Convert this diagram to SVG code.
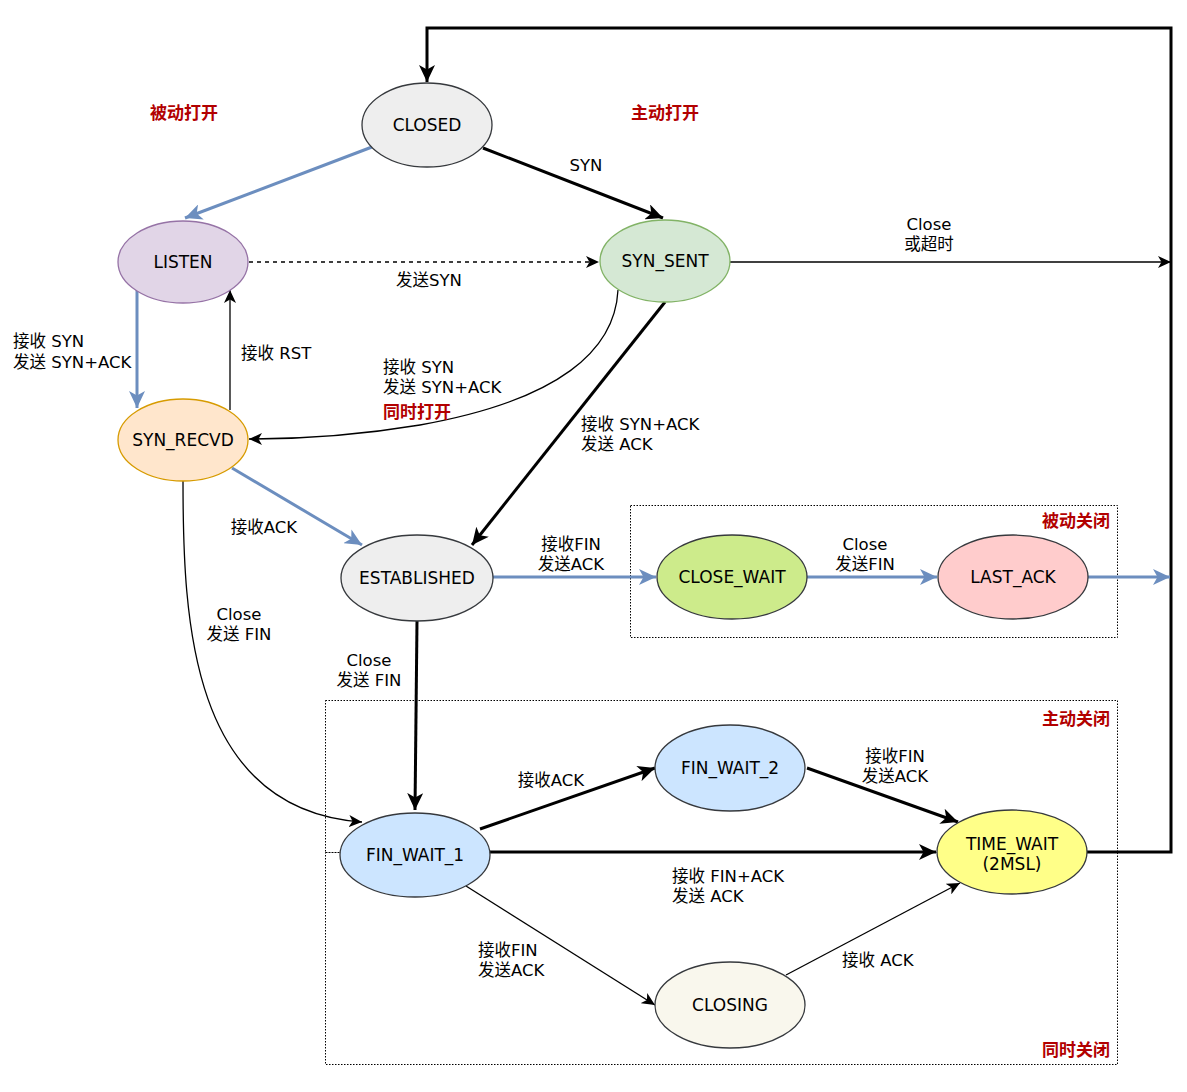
<svg xmlns="http://www.w3.org/2000/svg" width="1187" height="1092" viewBox="0 0 1187 1092">
<style>
text{font-family:"DejaVu Sans","Noto Sans CJK SC",sans-serif;font-size:16.5px;fill:#000}
.n{text-anchor:middle;dominant-baseline:central;font-size:17px}
.c{text-anchor:middle}
.r{font-weight:bold;fill:#b20000;font-size:17px}
.e{fill:none}
.k{stroke:#000;stroke-width:1.3}
.kt{stroke:#000;stroke-width:3}
.b{stroke:#6c8ebf;stroke-width:3}
.box{fill:none;stroke:#000;stroke-width:1;stroke-dasharray:1.5 1.5}
ellipse{stroke:#36393d;stroke-width:1.3}
</style>
<defs>
<marker id="ak" markerUnits="userSpaceOnUse" markerWidth="14" markerHeight="12" viewBox="0 0 14 12" refX="13" refY="6" orient="auto"><path d="M0,0 L13,6 L0,12 L3.5,6 z" fill="#000"/></marker>
<marker id="akt" markerUnits="userSpaceOnUse" markerWidth="18" markerHeight="16" viewBox="0 0 18 16" refX="17" refY="8" orient="auto"><path d="M0,0 L17,8 L0,16 L4.5,8 z" fill="#000"/></marker>
<marker id="ab" markerUnits="userSpaceOnUse" markerWidth="18" markerHeight="16" viewBox="0 0 18 16" refX="17" refY="8" orient="auto"><path d="M0,0 L17,8 L0,16 L4.5,8 z" fill="#6c8ebf"/></marker>
</defs>
<rect width="1187" height="1092" fill="#fff"/>

<g id="groups">
<rect class="box" x="630.5" y="505.5" width="487" height="132"/>
<rect class="box" x="325.5" y="700.5" width="792" height="152"/>
<rect class="box" x="325.5" y="852.5" width="792" height="212"/>
<text class="r" x="1110" y="527" text-anchor="end">被动关闭</text>
<text class="r" x="1110" y="725" text-anchor="end">主动关闭</text>
<text class="r" x="1110" y="1056" text-anchor="end">同时关闭</text>
<text class="r" x="184" y="119" text-anchor="middle">被动打开</text>
<text class="r" x="665" y="119" text-anchor="middle">主动打开</text>
</g>

<g id="connectors">
<path class="e kt" d="M1087,852 H1171 V28 H427 V82" marker-end="url(#akt)"/>
<path class="e b" d="M372,147 L185,218" marker-end="url(#ab)"/>
<path class="e kt" d="M483,148 L663,218" marker-end="url(#akt)"/>
<text class="c" x="586" y="171">SYN</text>
<path class="e k" d="M249,262 L599,262" stroke-dasharray="4 4" marker-end="url(#ak)"/>
<text class="c" x="429" y="286">发送SYN</text>
<path class="e k" d="M730,262 L1171,262" marker-end="url(#ak)"/>
<text class="c" x="929" y="230">Close</text>
<text class="c" x="929" y="250">或超时</text>
<path class="e b" d="M137,290 L137,408" marker-end="url(#ab)"/>
<text x="13" y="347">接收 SYN</text>
<text x="13" y="368">发送 SYN+ACK</text>
<path class="e k" d="M230,410 L230,290" marker-end="url(#ak)"/>
<text x="241" y="359">接收 RST</text>
<path class="e k" d="M618,290 C615,350 560,400 420,425 C360,435 300,439 249,439" marker-end="url(#ak)"/>
<text x="383" y="373">接收 SYN</text>
<text x="383" y="393">发送 SYN+ACK</text>
<text class="r" x="383" y="418">同时打开</text>
<path class="e kt" d="M665,302 L472,545" marker-end="url(#akt)"/>
<text x="581" y="430">接收 SYN+ACK</text>
<text x="581" y="450">发送 ACK</text>
<path class="e b" d="M232,468 L362,545" marker-end="url(#ab)"/>
<text class="c" x="264" y="533">接收ACK</text>
<path class="e k" d="M183,481 C183,620 190,810 362,822" marker-end="url(#ak)"/>
<text class="c" x="239" y="620">Close</text>
<text class="c" x="239" y="640">发送 FIN</text>
<path class="e b" d="M493,577 L656,577" marker-end="url(#ab)"/>
<text class="c" x="571" y="550">接收FIN</text>
<text class="c" x="571" y="570">发送ACK</text>
<path class="e b" d="M807,577 L937,577" marker-end="url(#ab)"/>
<text class="c" x="865" y="550">Close</text>
<text class="c" x="865" y="570">发送FIN</text>
<path class="e b" d="M1088,577 L1170,577" marker-end="url(#ab)"/>
<path class="e kt" d="M417,621 L415,810" marker-end="url(#akt)"/>
<text class="c" x="369" y="666">Close</text>
<text class="c" x="369" y="686">发送 FIN</text>
<path class="e kt" d="M480,829 L655,768" marker-end="url(#akt)"/>
<text class="c" x="551" y="786">接收ACK</text>
<path class="e kt" d="M807,768 L958,822" marker-end="url(#akt)"/>
<text class="c" x="895" y="762">接收FIN</text>
<text class="c" x="895" y="782">发送ACK</text>
<path class="e kt" d="M490,852 L936,852" marker-end="url(#akt)"/>
<text x="672" y="882">接收 FIN+ACK</text>
<text x="672" y="902">发送 ACK</text>
<path class="e k" d="M466,886 L655,1005" marker-end="url(#ak)"/>
<text x="478" y="956">接收FIN</text>
<text x="478" y="976">发送ACK</text>
<path class="e k" d="M786,975 L960,883" marker-end="url(#ak)"/>
<text x="842" y="966">接收 ACK</text>
</g>

<g id="CLOSED"><ellipse cx="427" cy="125" rx="65" ry="42" fill="#eeeeee"/><text class="n" x="427" y="125">CLOSED</text></g>
<g id="LISTEN"><ellipse cx="183" cy="262" rx="65" ry="41" fill="#e1d5e7" style="stroke:#9673a6"/><text class="n" x="183" y="262">LISTEN</text></g>
<g id="SYN_SENT"><ellipse cx="665" cy="261" rx="65" ry="41" fill="#d5e8d4" style="stroke:#82b366"/><text class="n" x="665" y="261">SYN_SENT</text></g>
<g id="SYN_RECVD"><ellipse cx="183" cy="440" rx="65" ry="41" fill="#ffe6cc" style="stroke:#d79b00"/><text class="n" x="183" y="440">SYN_RECVD</text></g>
<g id="ESTABLISHED"><ellipse cx="417" cy="578" rx="76" ry="43" fill="#eeeeee"/><text class="n" x="417" y="578">ESTABLISHED</text></g>
<g id="CLOSE_WAIT"><ellipse cx="732" cy="577" rx="75" ry="42" fill="#cdeb8b"/><text class="n" x="732" y="577">CLOSE_WAIT</text></g>
<g id="LAST_ACK"><ellipse cx="1013" cy="577" rx="75" ry="42" fill="#ffcccc"/><text class="n" x="1013" y="577">LAST_ACK</text></g>
<g id="FIN_WAIT_1"><ellipse cx="415" cy="855" rx="75" ry="42" fill="#cce5ff"/><text class="n" x="415" y="855">FIN_WAIT_1</text></g>
<g id="FIN_WAIT_2"><ellipse cx="730" cy="768" rx="75" ry="43" fill="#cce5ff"/><text class="n" x="730" y="768">FIN_WAIT_2</text></g>
<g id="TIME_WAIT"><ellipse cx="1012" cy="852" rx="75" ry="42" fill="#ffff88"/><text class="n" x="1012" y="844">TIME_WAIT</text><text class="n" x="1012" y="864">(2MSL)</text></g>
<g id="CLOSING"><ellipse cx="730" cy="1005" rx="75" ry="43" fill="#f9f7ed"/><text class="n" x="730" y="1005">CLOSING</text></g>
</svg>
